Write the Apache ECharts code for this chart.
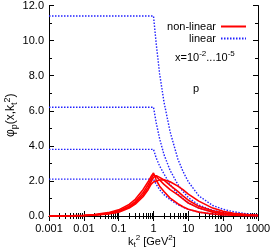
<!DOCTYPE html>
<html><head><meta charset="utf-8">
<script src="https://cdn.jsdelivr.net/npm/echarts@6/dist/echarts.min.js"></script>
<style>html,body{margin:0;padding:0;background:#fff}#c{width:274px;height:252px}</style>
</head><body><div id="c"></div>
<script>
const kGrid = [0.001,0.002,0.005,0.01,0.02,0.05,0.1,0.2,0.3,0.5,0.7,0.85,1,1.2,1.5,2,3,5,7,10,20,50,100,200,500,1000];
// linear (dotted blue), x = 1e-2 ... 1e-5
const lin1 = [2.1,2.1,2.1,2.1,2.1,2.1,2.1,2.1,2.1,2.1,2.1,2.1,2.1,1.8,1.5,1.22,0.92,0.65,0.5,0.38,0.22,0.11,0.065,0.04,0.02,0.01];
const lin2 = [3.8,3.8,3.8,3.8,3.8,3.8,3.8,3.8,3.8,3.8,3.8,3.8,3.8,3.3,2.85,2.4,1.8,1.25,1.0,0.75,0.45,0.22,0.13,0.08,0.04,0.02];
const lin3 = [6.2,6.2,6.2,6.2,6.2,6.2,6.2,6.2,6.2,6.2,6.2,6.2,6.2,5.3,4.4,3.5,2.6,1.8,1.4,1.05,0.62,0.32,0.2,0.12,0.06,0.035];
const lin4 = [11.4,11.4,11.4,11.4,11.4,11.4,11.4,11.4,11.4,11.4,11.4,11.4,11.4,9.8,8.1,6.5,4.8,3.25,2.55,1.95,1.15,0.6,0.38,0.24,0.12,0.07];
// non-linear (solid red)
const nl1 = [0.004,0.008,0.02,0.04,0.08,0.19,0.35,0.66,0.95,1.5,1.95,2.25,2.45,2.05,1.7,1.4,1.02,0.7,0.53,0.39,0.22,0.11,0.065,0.04,0.02,0.01];
const nl2 = [0.003,0.006,0.015,0.03,0.06,0.15,0.29,0.56,0.82,1.32,1.78,2.1,2.35,2.25,2.05,1.8,1.5,1.2,0.98,0.74,0.45,0.22,0.13,0.08,0.04,0.02];
const nl3 = [0.0025,0.005,0.013,0.027,0.055,0.13,0.25,0.5,0.74,1.2,1.62,1.95,2.2,2.3,2.2,2.05,1.75,1.4,1.15,0.9,0.55,0.3,0.18,0.11,0.055,0.03];
const nl4 = [0.002,0.004,0.011,0.023,0.047,0.12,0.22,0.45,0.68,1.1,1.5,1.8,1.94,2.0,2.05,2.07,1.95,1.7,1.5,1.25,0.85,0.45,0.27,0.16,0.08,0.045];
const xTickLabels = ['0.001','0.01','0.1','1','10','100','1000'];
const yTicks = [0,2,4,6,8,10,12];

const linSets = [lin1, lin2, lin3, lin4];
const nlSets = [nl1, nl2, nl3, nl4];
const pair = arr => kGrid.map((k,i)=>[k, arr[i]]);
const series = [];
nlSets.forEach(a => series.push({
  name:'non-linear', type:'line', data:pair(a), symbol:'none', smooth:false,
  lineStyle:{color:'#ff0000', width:1.6}, itemStyle:{color:'#ff0000'}, z:3
}));
linSets.forEach(a => series.push({
  name:'linear', type:'line', data:pair(a), symbol:'none', smooth:false,
  lineStyle:{color:'#2222ff', width:1.4, type:[1.5,1.5]}, itemStyle:{color:'#2222ff'}, z:2
}));

const FONT = 'Liberation Sans, Arial, sans-serif';
const chart = echarts.init(document.getElementById('c'), null, {renderer:'canvas'});
const xTickMap = {}; xTickLabels.forEach(s => xTickMap[parseFloat(s)] = s);
const baseX = {
  type:'log', logBase:10, min:0.001, max:1000,
  axisLine:{lineStyle:{color:'#000', width:1}},
  axisTick:{inside:true, length:5, lineStyle:{color:'#000'}},
  minorTick:{show:true, splitNumber:9, length:3, lineStyle:{color:'#000'}},
  splitLine:{show:false}
};
const baseY = {
  type:'value', min:yTicks[0], max:yTicks[yTicks.length-1], interval:2,
  axisLine:{show:true, lineStyle:{color:'#000', width:1}},
  axisTick:{show:true, inside:true, length:5, lineStyle:{color:'#000'}},
  minorTick:{show:true, splitNumber:2, length:3, lineStyle:{color:'#000'}},
  splitLine:{show:false}
};
chart.setOption({
  animation:false,
  grid:{left:49, right:16, top:5, bottom:36},
  xAxis:[
    Object.assign({}, baseX, {position:'bottom',
      axisLabel:{color:'#000', fontSize:11, fontFamily:FONT, margin:7,
        formatter: v => { const r = Object.keys(xTickMap).find(k => Math.abs(Math.log10(k)-Math.log10(v))<1e-6); return r!==undefined ? xTickMap[r] : ''; }}}),
    Object.assign({}, baseX, {position:'top', axisLabel:{show:false}})
  ],
  yAxis:[
    Object.assign({}, baseY, {position:'left',
      axisLabel:{color:'#000', fontSize:11, fontFamily:FONT, margin:5, formatter: v => v.toFixed(1)}}),
    Object.assign({}, baseY, {position:'right', axisLabel:{show:false}})
  ],
  legend:{
    data:['non-linear','linear'], orient:'vertical', left:161, top:16,
    align:'right', itemWidth:25, itemHeight:8, itemGap:1,
    itemStyle:{opacity:0, borderWidth:0},
    textStyle:{fontSize:11, fontFamily:FONT, color:'#000', width:50, lineHeight:10}
  },
  series: series,
  graphic:[
    {type:'text', left:175, top:50, style:{
      text:'{n|x=10}{s|-2}{n|...10}{s|-5}', fontFamily:FONT,
      rich:{n:{fontSize:11, fontFamily:FONT, fill:'#000', verticalAlign:'bottom', padding:[0,0,0,0]},
            s:{fontSize:8, fontFamily:FONT, fill:'#000', verticalAlign:'bottom', padding:[0,0,5,0]}}}},
    {type:'text', left:193, top:83, style:{text:'p', fontSize:11, fontFamily:FONT, fill:'#000'}},
    {type:'text', left:128, top:234, style:{
      text:'{n|k}{b|t}{s|2}{n| [GeV}{s|2}{n|]}', fontFamily:FONT,
      rich:{n:{fontSize:11, fontFamily:FONT, fill:'#000', verticalAlign:'bottom', padding:[0,0,2,0]},
            b:{fontSize:8, fontFamily:FONT, fill:'#000', verticalAlign:'bottom', padding:[0,0,0,0]},
            s:{fontSize:8, fontFamily:FONT, fill:'#000', verticalAlign:'bottom', padding:[0,0,7,0]}}}},
    {type:'text', x:3, y:137, rotation:Math.PI/2, style:{
      text:'{n|φ}{b|p}{n|(x,k}{b|t}{s|2}{n|)}', fontFamily:FONT,
      rich:{n:{fontSize:12, fontFamily:FONT, fill:'#000', verticalAlign:'bottom', padding:[0,0,2,0]},
            b:{fontSize:9, fontFamily:FONT, fill:'#000', verticalAlign:'bottom', padding:[0,0,0,0]},
            s:{fontSize:9, fontFamily:FONT, fill:'#000', verticalAlign:'bottom', padding:[0,0,7,0]}}}}
  ]
});
</script></body></html>
